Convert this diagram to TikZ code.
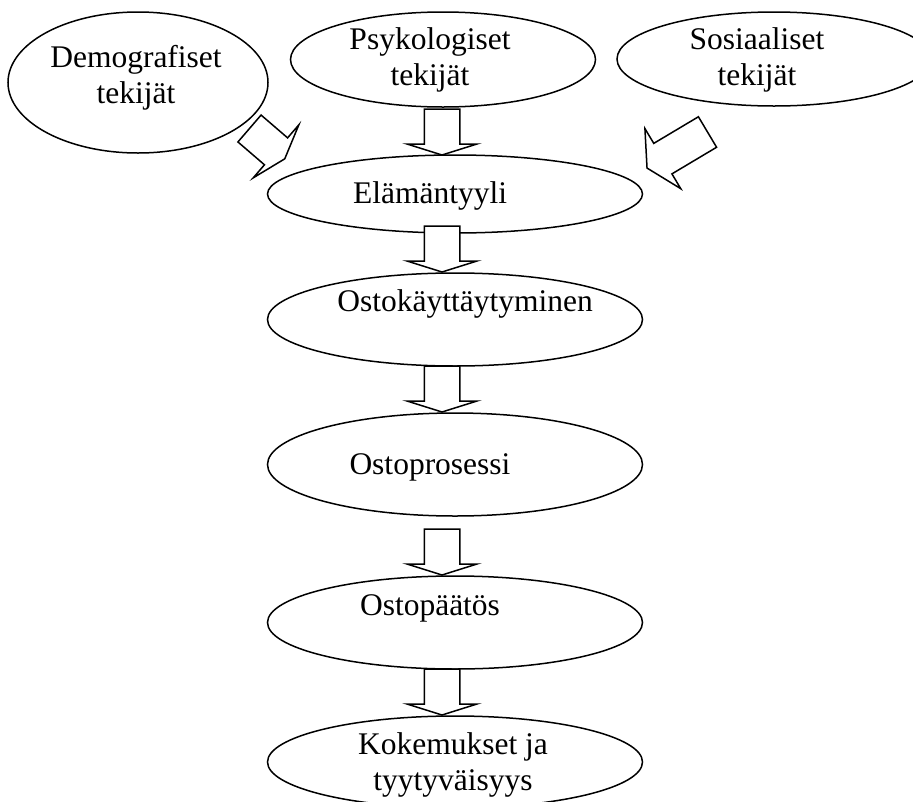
\documentclass[tikz,border=0pt]{standalone}
\usepackage{fontspec}
\setmainfont{Liberation Serif}
\usetikzlibrary{shapes.geometric}
\begin{document}
\begin{tikzpicture}[x=1pt,y=-1pt,
  oval/.style={draw, ellipse, line width=1.5pt, inner sep=0pt},
  lbl/.style={font=\fontsize{31.5}{36}\selectfont, inner sep=0pt, align=center, anchor=base},
  arrowline/.style={draw, fill=white, line width=1.5pt, line join=miter},
  pics/barrow/.style n args={2}{code={\path[arrowline] (-17.75,0) -- (17.75,0) -- (17.75,#1) -- (35,#1) -- (0,#1+#2) -- (-35,#1) -- (-17.75,#1) -- cycle;}}
]
\clip (0,0) rectangle (913,801);
% ellipses
\node[oval, minimum width=260pt, minimum height=141pt] (demo) at (138,82.5) {};
\node[oval, minimum width=305pt, minimum height=95pt] (psyk) at (443,59.5) {};
\node[oval, minimum width=314pt, minimum height=94pt] (sos) at (774,59) {};
\node[oval, minimum width=375pt, minimum height=78pt] (elam) at (455,194) {};
\node[oval, minimum width=375pt, minimum height=93pt] (osto) at (455,319.5) {};
\node[oval, minimum width=375pt, minimum height=103pt] (prosessi) at (455,464.5) {};
\node[oval, minimum width=375pt, minimum height=93pt] (paatos) at (455,622.5) {};
\node[oval, minimum width=375pt, minimum height=92pt] (kok) at (455,762) {};
% block arrows
\pic at (442,109) {barrow={35}{11}};
\pic at (442,226) {barrow={35}{11}};
\pic at (442,366) {barrow={35}{11}};
\pic at (442,529) {barrow={35}{11}};
\pic at (442,669) {barrow={35}{11}};
\pic[rotate=49.3] at (249.5,128.5) {barrow={35}{11.5}};
\pic[rotate=-59.2] at (707.5,132) {barrow={52}{18.4}};
% labels (base = baseline of last line)
\node[lbl] (tdemo) at (136,103) {Demografiset\\tekijät};
\node[lbl] (tpsyk) at (430,85) {Psykologiset\\tekijät};
\node[lbl] (tsos) at (757,85) {Sosiaaliset\\tekijät};
\node[lbl] (telam) at (430,203) {Elämäntyyli};
\node[lbl] (tosto) at (465,311) {Ostokäyttäytyminen};
\node[lbl] (tpros) at (430,474) {Ostoprosessi};
\node[lbl] (tpaat) at (430,615) {Ostopäätös};
\node[lbl] (tkok) at (453,790) {Kokemukset ja\\tyytyväisyys};
\end{tikzpicture}
\end{document}
